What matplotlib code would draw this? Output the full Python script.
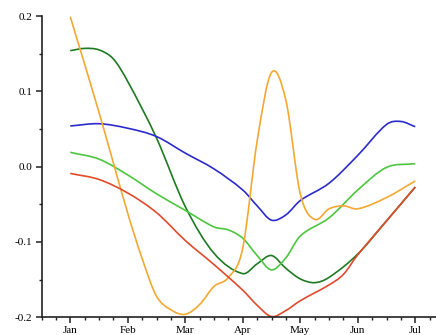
import numpy as np
import matplotlib
matplotlib.use('Agg')
import matplotlib.pyplot as plt
from matplotlib.path import Path
from matplotlib.patches import PathPatch
from matplotlib.ticker import MultipleLocator, FormatStrFormatter

months = ['Jan', 'Feb', 'Mar', 'Apr', 'May', 'Jun', 'Jul']

# readings, x in months from Jan (0) to Jul (6)
blue_x = [0, 0.5, 1, 1.5, 2, 2.5, 3, 3.25, 3.5, 3.75, 4, 4.5, 5, 5.5, 5.75, 6]
blue_y = [0.054, 0.057, 0.051, 0.040, 0.018, -0.003, -0.031, -0.052, -0.071,
          -0.064, -0.045, -0.022, 0.015, 0.056, 0.060, 0.053]

light_green_x = [0, 0.5, 1, 1.5, 2, 2.5, 2.75, 3, 3.25, 3.5, 3.75, 4, 4.5, 5,
                 5.5, 6]
light_green_y = [0.019, 0.010, -0.011, -0.036, -0.058, -0.080, -0.084, -0.095,
                 -0.118, -0.137, -0.121, -0.092, -0.068, -0.031, -0.001, 0.004]

red_x = [0, 0.5, 1, 1.5, 2, 2.5, 3, 3.25, 3.5, 3.75, 4, 4.5, 4.75, 5, 5.5, 6]
red_y = [-0.009, -0.017, -0.035, -0.061, -0.098, -0.130, -0.164, -0.184,
         -0.199, -0.191, -0.178, -0.157, -0.143, -0.117, -0.072, -0.027]

dark_green_x = [0, 0.25, 0.5, 0.75, 1, 1.5, 2, 2.5, 3, 3.25, 3.5, 3.75, 4,
                4.25, 4.5, 5, 5.5, 6]
dark_green_y = [0.154, 0.157, 0.155, 0.143, 0.113, 0.038, -0.053, -0.115,
                -0.142, -0.129, -0.118, -0.135, -0.149, -0.154, -0.147,
                -0.116, -0.072, -0.027]

orange_x = [0, 0.5, 1, 1.25, 1.5, 1.75, 2, 2.25, 2.5, 2.75, 3, 3.25, 3.5,
            3.75, 4, 4.25, 4.5, 4.75, 5, 5.5, 6]
orange_y = [0.199, 0.072, -0.062, -0.122, -0.172, -0.190, -0.196, -0.183,
            -0.159, -0.147, -0.108, 0.034, 0.125, 0.088, -0.036, -0.070,
            -0.056, -0.052, -0.056, -0.041, -0.019]

series = [
    (dark_green_x, dark_green_y, '#1f7a22'),
    (light_green_x, light_green_y, '#4cc63e'),
    (blue_x, blue_y, '#2b2bcc'),
    (orange_x, orange_y, '#f4a832'),
    (red_x, red_y, '#e24a2c'),
]


def smooth_path(x, y):
    # cubic hermite through the readings (catmull-rom style slopes),
    # handed to matplotlib as bezier segments
    x = np.asarray(x, float)
    y = np.asarray(y, float)
    n = len(x)
    m = np.zeros(n)
    m[0] = (y[1] - y[0]) / (x[1] - x[0])
    m[-1] = (y[-1] - y[-2]) / (x[-1] - x[-2])
    m[1:-1] = (y[2:] - y[:-2]) / (x[2:] - x[:-2])
    verts = [(x[0], y[0])]
    codes = [Path.MOVETO]
    for i in range(n - 1):
        k = (x[i + 1] - x[i]) / 3
        verts += [(x[i] + k, y[i] + k * m[i]),
                  (x[i + 1] - k, y[i + 1] - k * m[i + 1]),
                  (x[i + 1], y[i + 1])]
        codes += [Path.CURVE4] * 3
    return Path(verts, codes)


plt.rcParams['font.family'] = ['Liberation Serif', 'DejaVu Serif']
plt.rcParams['axes.unicode_minus'] = False

fig = plt.figure(figsize=(4.36, 3.35), dpi=100)
ax = fig.add_axes([0.0952, 0.0528, 0.9232, 0.8994])

for xs, ys, color in series:
    ax.add_patch(PathPatch(smooth_path(xs, ys), fill=False,
                           edgecolor=color, lw=1.2, clip_on=False))

ax.set_xlim(-0.5, 6.5)
ax.set_ylim(-0.2, 0.2)
ax.set_xticks(range(len(months)))
ax.set_xticklabels(months)
ax.xaxis.set_minor_locator(MultipleLocator(0.25))
ax.set_yticks([-0.2, -0.1, 0.0, 0.1, 0.2])
ax.yaxis.set_major_formatter(FormatStrFormatter('%.1f'))
ax.yaxis.set_minor_locator(MultipleLocator(0.05))

for side in ['top', 'right']:
    ax.spines[side].set_visible(False)
for side in ['left', 'bottom']:
    ax.spines[side].set_linewidth(1.2)
    ax.spines[side].set_color('#222222')

ax.tick_params(which='major', direction='out', length=4.5, width=1.1,
               labelsize=8, pad=2, color='#222222')
ax.tick_params(which='minor', direction='out', length=2.5, width=1.0,
               color='#222222')

fig.savefig('out.png', dpi=100)
